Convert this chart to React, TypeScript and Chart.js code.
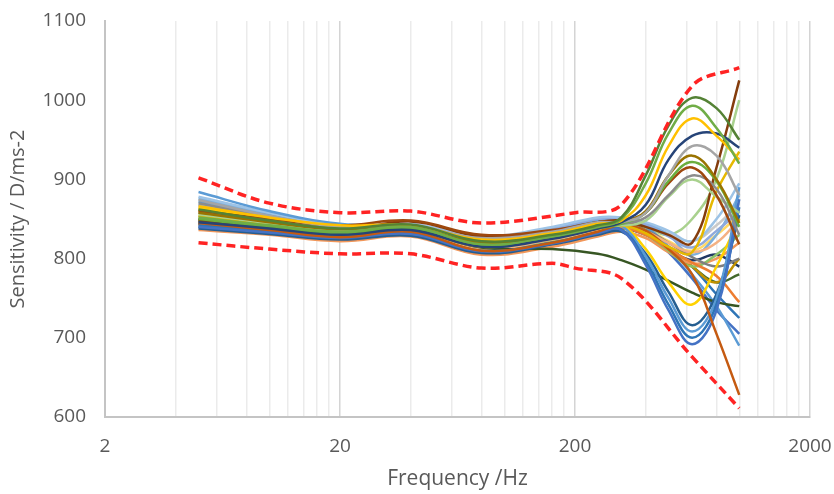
import React, { useEffect, useRef } from 'react';
import { Chart, registerables } from 'chart.js';
Chart.register(...registerables);

const freqs = [5, 10, 20, 40, 80, 160, 250, 315, 400, 500, 630, 800, 1000];

const s01 = [862, 848, 838, 843, 822, 830, 842, 852, 905, 968, 1003, 990, 950];
const s02 = [852, 842, 834, 840, 818, 828, 840, 850, 895, 958, 993, 965, 920];
const s03 = [866, 852, 842, 842, 824, 832, 844, 848, 880, 942, 977, 955, 925];
const s04 = [846, 838, 830, 836, 815, 825, 838, 846, 868, 925, 955, 958, 940];
const s05 = [874, 854, 840, 842, 826, 834, 846, 846, 858, 905, 942, 930, 880];
const s06 = [858, 846, 837, 842, 820, 830, 842, 846, 860, 905, 930, 900, 845];
const s07 = [850, 840, 832, 838, 816, 826, 838, 844, 858, 898, 922, 898, 840];
const s08 = [860, 850, 842, 848, 830, 836, 846, 848, 858, 895, 915, 880, 818];
const s09 = [870, 852, 838, 840, 822, 832, 844, 844, 852, 880, 905, 888, 830];
const s10 = [856, 845, 836, 840, 820, 830, 842, 842, 848, 878, 900, 878, 858];
const s11 = [854, 842, 832, 837, 815, 826, 838, 842, 832, 815, 808, 885, 935];
const s12 = [848, 840, 834, 847, 828, 834, 846, 848, 840, 830, 820, 915, 1025];
const s13 = [845, 836, 827, 834, 810, 820, 834, 842, 835, 812, 780, 705, 628];
const s14 = [840, 833, 826, 831, 809, 819, 832, 836, 792, 735, 692, 735, 875];
const s15 = [842, 835, 828, 832, 810, 820, 833, 837, 797, 742, 700, 742, 865];
const s16 = [884, 860, 844, 840, 822, 832, 846, 842, 803, 750, 708, 750, 890];
const s17 = [838, 831, 824, 829, 807, 818, 830, 834, 806, 758, 716, 755, 855];
const s18 = [864, 850, 838, 838, 818, 828, 840, 842, 812, 770, 742, 790, 850];
const s19 = [850, 840, 830, 836, 814, 812, 806, 798, 786, 772, 757, 745, 740];
const s20 = [878, 858, 842, 844, 828, 840, 852, 852, 846, 835, 822, 850, 895];
const s21 = [843, 834, 825, 831, 807, 818, 831, 838, 830, 812, 795, 778, 745];
const s22 = [852, 842, 832, 836, 813, 824, 836, 840, 834, 820, 808, 820, 850];
const s23 = [868, 852, 840, 843, 826, 838, 850, 850, 843, 828, 814, 835, 860];
const s24 = [858, 846, 835, 839, 818, 828, 840, 844, 836, 820, 802, 790, 800];
const s25 = [872, 854, 839, 840, 824, 836, 848, 850, 840, 815, 780, 740, 690];
const s26 = [846, 838, 829, 834, 812, 823, 836, 840, 830, 810, 790, 805, 830];
const s27 = [836, 830, 822, 828, 805, 815, 828, 834, 826, 808, 794, 800, 820];
const s28 = [862, 849, 838, 843, 823, 832, 843, 846, 836, 815, 790, 770, 800];
const s29 = [844, 835, 825, 831, 808, 819, 832, 838, 830, 812, 798, 805, 790];
const s30 = [876, 856, 840, 840, 824, 836, 850, 852, 845, 830, 805, 830, 880];
const s31 = [848, 838, 829, 835, 813, 824, 836, 840, 832, 812, 790, 770, 780];
const s32 = [866, 850, 838, 840, 822, 834, 848, 850, 842, 832, 822, 842, 870];
const s33 = [860, 847, 837, 840, 821, 830, 842, 846, 838, 822, 810, 830, 855];
const s34 = [854, 843, 834, 838, 819, 830, 842, 846, 840, 830, 850, 900, 1000];
const s35 = [845, 836, 827, 832, 811, 822, 835, 840, 832, 808, 775, 735, 705];
const s36 = [840, 832, 824, 830, 808, 820, 834, 840, 834, 815, 790, 755, 725];

const seriesList = [s01, s02, s03, s04, s05, s06, s07, s08, s09, s10, s11, s12, s13, s14, s15, s16, s17,
  s18, s19, s20, s21, s22, s23, s24, s25, s26, s27, s28, s29, s30, s31, s32, s33, s34, s35, s36];

const seriesColors = ['#548235', '#70AD47', '#FFC000', '#264478', '#A5A5A5', '#997300', '#6AAE3E', '#9E480E',
  '#8C8C8C', '#A9D18E', '#E6B800', '#843C0C', '#C55A11', '#4472C4', '#2E75B6', '#5B9BD5', '#255E91',
  '#FFD200', '#375623', '#9DC3E6', '#ED7D31', '#F4B183', '#8FAADC', '#7F7F7F', '#5B9BD5', '#8CC168',
  '#F1975A', '#BF9000', '#203864', '#7CAFDD', '#43682B', '#C9C9C9', '#FFD966', '#A9D18E', '#4472C4',
  '#2E75B6'];

const upperFreqs = [5, 10, 20, 40, 80, 200, 315, 630, 1000];
const upperLimit = [902, 870, 858, 860, 845, 858, 868, 1018, 1041];
const lowerFreqs = [5, 10, 20, 40, 80, 160, 200, 315, 630, 1000];
const lowerLimit = [820, 812, 806, 806, 788, 794, 788, 775, 676, 611];

const xTickValues = [2, 4, 6, 8, 10, 12, 14, 16, 18, 20, 40, 60, 80, 100, 120, 140, 160, 180, 200,
  400, 600, 800, 1000, 1200, 1400, 1600, 1800, 2000];
const xMajorTicks = [2, 20, 200, 2000];
const yTickValues = [600, 700, 800, 900, 1000, 1100];

const FONT = '"Open Sans", "Liberation Sans", sans-serif';
const TEXT = '#595959';

export default function App() {
  const ref = useRef<HTMLCanvasElement | null>(null);
  useEffect(() => {
    document.body.style.margin = '0';
    const datasets: any[] = [
      {
        label: 'Upper',
        data: upperFreqs.map((f, i) => ({ x: f, y: upperLimit[i] })),
        borderColor: '#FF2323',
        borderWidth: 3.5,
        borderDash: [9, 5],
        pointRadius: 0,
        tension: 0.35,
        fill: false,
      },
      {
        label: 'Lower',
        data: lowerFreqs.map((f, i) => ({ x: f, y: lowerLimit[i] })),
        borderColor: '#FF2323',
        borderWidth: 3.5,
        borderDash: [9, 5],
        pointRadius: 0,
        tension: 0.35,
        fill: false,
      },
    ];
    seriesList.forEach((vals, i) => {
      datasets.push({
        label: 'S' + (i + 1),
        data: vals.map((v, j) => ({ x: freqs[j], y: v })),
        borderColor: seriesColors[i],
        borderWidth: 2.5,
        pointRadius: 0,
        tension: 0.4,
        fill: false,
      });
    });
    const chart = new Chart(ref.current as HTMLCanvasElement, {
      type: 'line',
      data: { datasets },
      options: {
        animation: false,
        responsive: true,
        maintainAspectRatio: false,
        layout: { padding: { top: 21, right: 24, left: 0, bottom: 0 } },
        plugins: { legend: { display: false }, tooltip: { enabled: false } },
        scales: {
          x: {
            type: 'logarithmic',
            min: 2,
            max: 2000,
            afterBuildTicks: (s: any) => {
              s.ticks = xTickValues.map((v) => ({ value: v }));
            },
            afterFit: (s: any) => {
              s.height = 77;
              s.paddingLeft = 0;
              s.paddingRight = 0;
            },
            ticks: {
              autoSkip: false,
              maxRotation: 0,
              padding: 18,
              color: TEXT,
              font: { family: FONT, size: 19 },
              callback: (v: any) => (xMajorTicks.includes(Number(v)) ? String(v) : ''),
            },
            grid: {
              drawTicks: false,
              color: (ctx: any) => (ctx.tick && xMajorTicks.includes(ctx.tick.value) ? '#d4d4d4' : '#ebebeb'),
              lineWidth: 1.5,
            },
            border: { display: true, color: '#c4c4c4', width: 2 },
            title: {
              display: true,
              text: 'Frequency /Hz',
              color: TEXT,
              font: { family: FONT, size: 21 },
              padding: { top: 0, bottom: 2 },
            },
          },
          y: {
            type: 'linear',
            min: 600,
            max: 1100,
            afterBuildTicks: (s: any) => {
              s.ticks = yTickValues.map((v) => ({ value: v }));
            },
            afterFit: (s: any) => {
              s.width = 105;
              s.paddingTop = 0;
              s.paddingBottom = 0;
            },
            ticks: {
              padding: 19,
              color: TEXT,
              font: { family: FONT, size: 19 },
              callback: (v: any) => String(v),
            },
            grid: { display: false, drawTicks: false },
            border: { display: true, color: '#c4c4c4', width: 2 },
            title: {
              display: true,
              text: 'Sensitivity / D/ms-2',
              color: TEXT,
              font: { family: FONT, size: 20 },
              padding: { top: 6, bottom: 0 },
            },
          },
        },
      },
    } as any);
    return () => chart.destroy();
  }, []);
  return (
    <div style={{ position: 'relative', width: 834, height: 494 }}>
      <canvas ref={ref} />
    </div>
  );
}
